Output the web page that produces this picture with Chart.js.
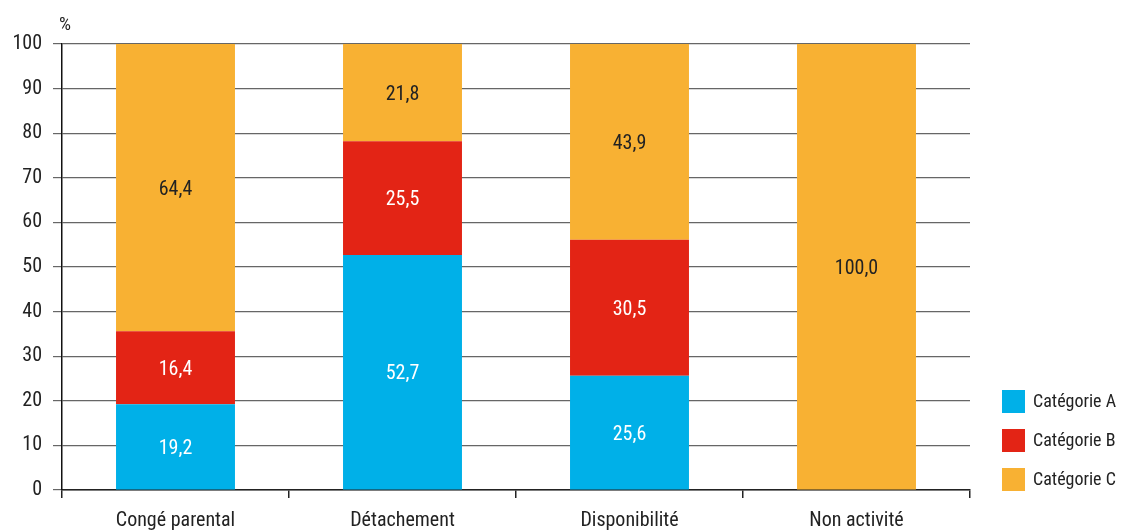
<!DOCTYPE html>
<html><head><meta charset="utf-8">
<script src="https://cdn.jsdelivr.net/npm/chart.js@4"></script>
<style>html,body{margin:0;padding:0;background:#fff}#wrap{width:1121px;height:530px;position:relative}</style>
</head><body><div id="wrap"><canvas id="c" width="1121" height="530"></canvas></div>
<script>
const categories = ["Congé parental", "Détachement", "Disponibilité", "Non activité"];
const seriesNames = ["Catégorie A", "Catégorie B", "Catégorie C"];
const catA = [19.2, 52.7, 25.6, 0];
const catB = [16.4, 25.5, 30.5, 0];
const catC = [64.4, 21.8, 43.9, 100.0];
const yTicks = [0, 10, 20, 30, 40, 50, 60, 70, 80, 90, 100];
const colors = ["#00b0e8", "#e32415", "#f8b133"];
const labelColors = ["#ffffff", "#ffffff", "#222222"];
const FONT = "'Liberation Sans Narrow', 'Roboto Condensed', 'Roboto', sans-serif";

const valueLabels = {
  id: 'valueLabels',
  afterDatasetsDraw(chart) {
    const ctx = chart.ctx;
    ctx.save();
    ctx.font = "20px " + FONT;
    ctx.textAlign = 'center';
    ctx.textBaseline = 'middle';
    chart.data.datasets.forEach((ds, di) => {
      const meta = chart.getDatasetMeta(di);
      meta.data.forEach((bar, i) => {
        const v = ds.data[i];
        if (!v) return;
        ctx.fillStyle = labelColors[di];
        ctx.fillText(v.toFixed(1).replace('.', ','), bar.x, (bar.y + bar.base) / 2 + 2);
      });
    });
    ctx.restore();
  }
};

const customLegend = {
  id: 'customLegend',
  afterDraw(chart) {
    const ctx = chart.ctx;
    ctx.save();
    ctx.font = "18px " + FONT;
    ctx.textBaseline = 'middle';
    ctx.textAlign = 'left';
    chart.data.datasets.forEach((ds, i) => {
      const y = 390 + i * 39;
      ctx.fillStyle = ds.backgroundColor;
      ctx.fillRect(1002, y, 23, 23);
      ctx.fillStyle = '#222';
      ctx.fillText(ds.label, 1033, y + 12);
    });
    ctx.fillStyle = '#222';
    ctx.font = "19px " + FONT;
    ctx.fillText('%', 59, 25);
    ctx.restore();
  }
};

new Chart(document.getElementById('c'), {
  type: 'bar',
  data: {
    labels: categories,
    datasets: [
      { label: seriesNames[0], data: catA, backgroundColor: colors[0] },
      { label: seriesNames[1], data: catB, backgroundColor: colors[1] },
      { label: seriesNames[2], data: catC, backgroundColor: colors[2] }
    ]
  },
  options: {
    responsive: false,
    animation: false,
    layout: { padding: { top: 44, right: 151, left: 0, bottom: 0 } },
    datasets: { bar: { categoryPercentage: 0.524, barPercentage: 1.0 } },
    plugins: { legend: { display: false }, tooltip: { enabled: false } },
    scales: {
      x: {
        stacked: true,
        afterFit(scale) { scale.height = 40; },
        grid: { display: true, drawOnChartArea: false, drawTicks: true, tickLength: 8, color: '#222', lineWidth: 1.5, offset: true },
        border: { display: true, color: '#222', width: 1.5 },
        ticks: { color: '#222', font: { family: FONT, size: 20 }, padding: 11, maxRotation: 0 }
      },
      y: {
        stacked: true,
        min: 0, max: 100,
        afterFit(scale) { scale.width = 62; },
        afterBuildTicks(scale) { scale.ticks = yTicks.map(v => ({ value: v })); },
        grid: { color: '#666', lineWidth: 1.2, tickLength: 9, drawTicks: true },
        border: { display: true, color: '#111', width: 1.5 },
        ticks: { color: '#222', font: { family: FONT, size: 20 }, padding: 11 }
      }
    }
  },
  plugins: [valueLabels, customLegend]
});
</script></body></html>
